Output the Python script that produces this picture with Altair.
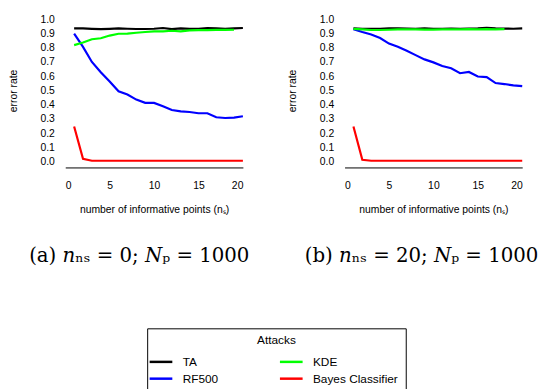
import altair as alt
import pandas as pd

x_vals = list(range(1, 21))

ta_a = [0.935, 0.935, 0.932, 0.930, 0.932, 0.935, 0.933, 0.931, 0.931, 0.933,
        0.938, 0.930, 0.936, 0.932, 0.933, 0.937, 0.935, 0.933, 0.935, 0.938]
rf_a = [0.898, 0.806, 0.700, 0.628, 0.563, 0.494, 0.471, 0.436, 0.413, 0.413,
        0.390, 0.363, 0.353, 0.349, 0.340, 0.340, 0.312, 0.307, 0.310, 0.319]
kde_a = [0.818, 0.836, 0.859, 0.866, 0.885, 0.898, 0.899, 0.905, 0.910, 0.915,
         0.915, 0.919, 0.915, 0.921, 0.923, 0.923, 0.925, 0.925, 0.926]
bayes_a = [0.247, 0.021, 0.007, 0.007, 0.007, 0.007, 0.007, 0.007, 0.007, 0.007,
           0.007, 0.007, 0.007, 0.007, 0.007, 0.007, 0.007, 0.007, 0.007, 0.007]

ta_b = [0.935, 0.933, 0.932, 0.933, 0.935, 0.936, 0.934, 0.933, 0.935, 0.933,
        0.933, 0.934, 0.933, 0.934, 0.935, 0.939, 0.935, 0.934, 0.933, 0.935]
rf_b = [0.930, 0.910, 0.892, 0.868, 0.829, 0.806, 0.778, 0.748, 0.718, 0.697,
        0.672, 0.656, 0.621, 0.630, 0.598, 0.594, 0.552, 0.545, 0.536, 0.531]
kde_b = [0.932, 0.928, 0.924, 0.924, 0.926, 0.928, 0.929, 0.928, 0.927, 0.927,
         0.928, 0.928, 0.929, 0.930, 0.929, 0.930, 0.929, 0.930]
bayes_b = [0.247, 0.014, 0.007, 0.007, 0.007, 0.007, 0.007, 0.007, 0.007, 0.007,
           0.007, 0.007, 0.007, 0.007, 0.007, 0.007, 0.007, 0.007, 0.007, 0.007]

# legend order: column-major in the legend grid -> TA, RF500 | KDE, Bayes Classifier
series_names = ["TA", "RF500", "KDE", "Bayes Classifier"]
series_colors = ["#000000", "#0000ff", "#00ff00", "#ff0000"]
draw_order = ["TA", "RF500", "KDE", "Bayes Classifier"]

captions = ["(a) 𝑛ₙₛ = 0; 𝑁ₚ = 1000", "(b) 𝑛ₙₛ = 20; 𝑁ₚ = 1000"]
y_ticks = [0.0, 0.1, 0.2, 0.3, 0.4, 0.5, 0.6, 0.7, 0.8, 0.9, 1.0]
x_ticks = [0, 5, 10, 15, 20]


def frame(series):
    rows = []
    for name, vals in series.items():
        for xv, yv in zip(x_vals, vals):
            rows.append({"series": name, "n": xv, "err": yv})
    return pd.DataFrame(rows)


color = alt.Color(
    "series:N",
    scale=alt.Scale(domain=series_names, range=series_colors),
    legend=alt.Legend(
        title="Attacks",
        orient="none",
        legendX=83,
        legendY=319,
        columns=2,
        columnPadding=56,
        rowPadding=4,
        symbolType="M-2,0H2",
        symbolSize=132,
        symbolStrokeWidth=2.5,
        symbolFillColor="transparent",
        labelOffset=15,
        labelFontSize=12,
        labelFont="Liberation Sans",
        labelColor="black",
        titleFontSize=12,
        titleFont="Liberation Sans",
        titleFontWeight="normal",
        titleColor="black",
        titleAnchor="middle",
        titlePadding=8,
        strokeColor="black",
        padding=7,
    ),
)


def panel(series, caption, dx):
    df = frame(series)
    layers = []
    for name in draw_order:
        layers.append(
            alt.Chart(df[df.series == name])
            .mark_line(strokeWidth=2.2, clip=False)
            .encode(
                x=alt.X(
                    "n:Q",
                    scale=alt.Scale(domain=[0, 20], nice=False, zero=False),
                    axis=alt.Axis(
                        values=x_ticks,
                        title="number of informative points (nₛ)",
                        ticks=False,
                        grid=False,
                        domainColor="black",
                        domainWidth=1,
                        labelPadding=13,
                        titlePadding=14,
                    ),
                ),
                y=alt.Y(
                    "err:Q",
                    scale=alt.Scale(domain=[-0.04, 1.04], nice=False, zero=False),
                    axis=alt.Axis(
                        values=y_ticks,
                        format=".1f",
                        title="error rate",
                        ticks=False,
                        grid=False,
                        domain=False,
                        labelPadding=11,
                        titlePadding=22,
                    ),
                ),
                color=color,
            )
        )
    return alt.layer(*layers).properties(
        width=180,
        height=156,
        title=alt.TitleParams(
            caption,
            orient="bottom",
            anchor="middle",
            frame="group",
            dx=dx,
            offset=32,
            font="DejaVu Serif",
            fontSize=20,
            fontWeight="normal",
            color="black",
        ),
    )


left = panel({"TA": ta_a, "RF500": rf_a, "KDE": kde_a, "Bayes Classifier": bayes_a}, captions[0], -15)
right = panel({"TA": ta_b, "RF500": rf_b, "KDE": kde_b, "Bayes Classifier": bayes_b}, captions[1], -12)

chart = (
    alt.hconcat(left, right, spacing=103, bounds="flush")
    .properties(padding={"left": 0, "top": 3, "right": 0, "bottom": 0})
    .configure_view(stroke=None)
    .configure_axis(
        labelFont="Liberation Sans",
        labelFontSize=10.5,
        labelColor="black",
        titleFont="Liberation Sans",
        titleFontSize=10.5,
        titleFontWeight="normal",
        titleColor="black",
    )
)

chart.save("out.html", embed_options={"renderer": "svg", "actions": False})
